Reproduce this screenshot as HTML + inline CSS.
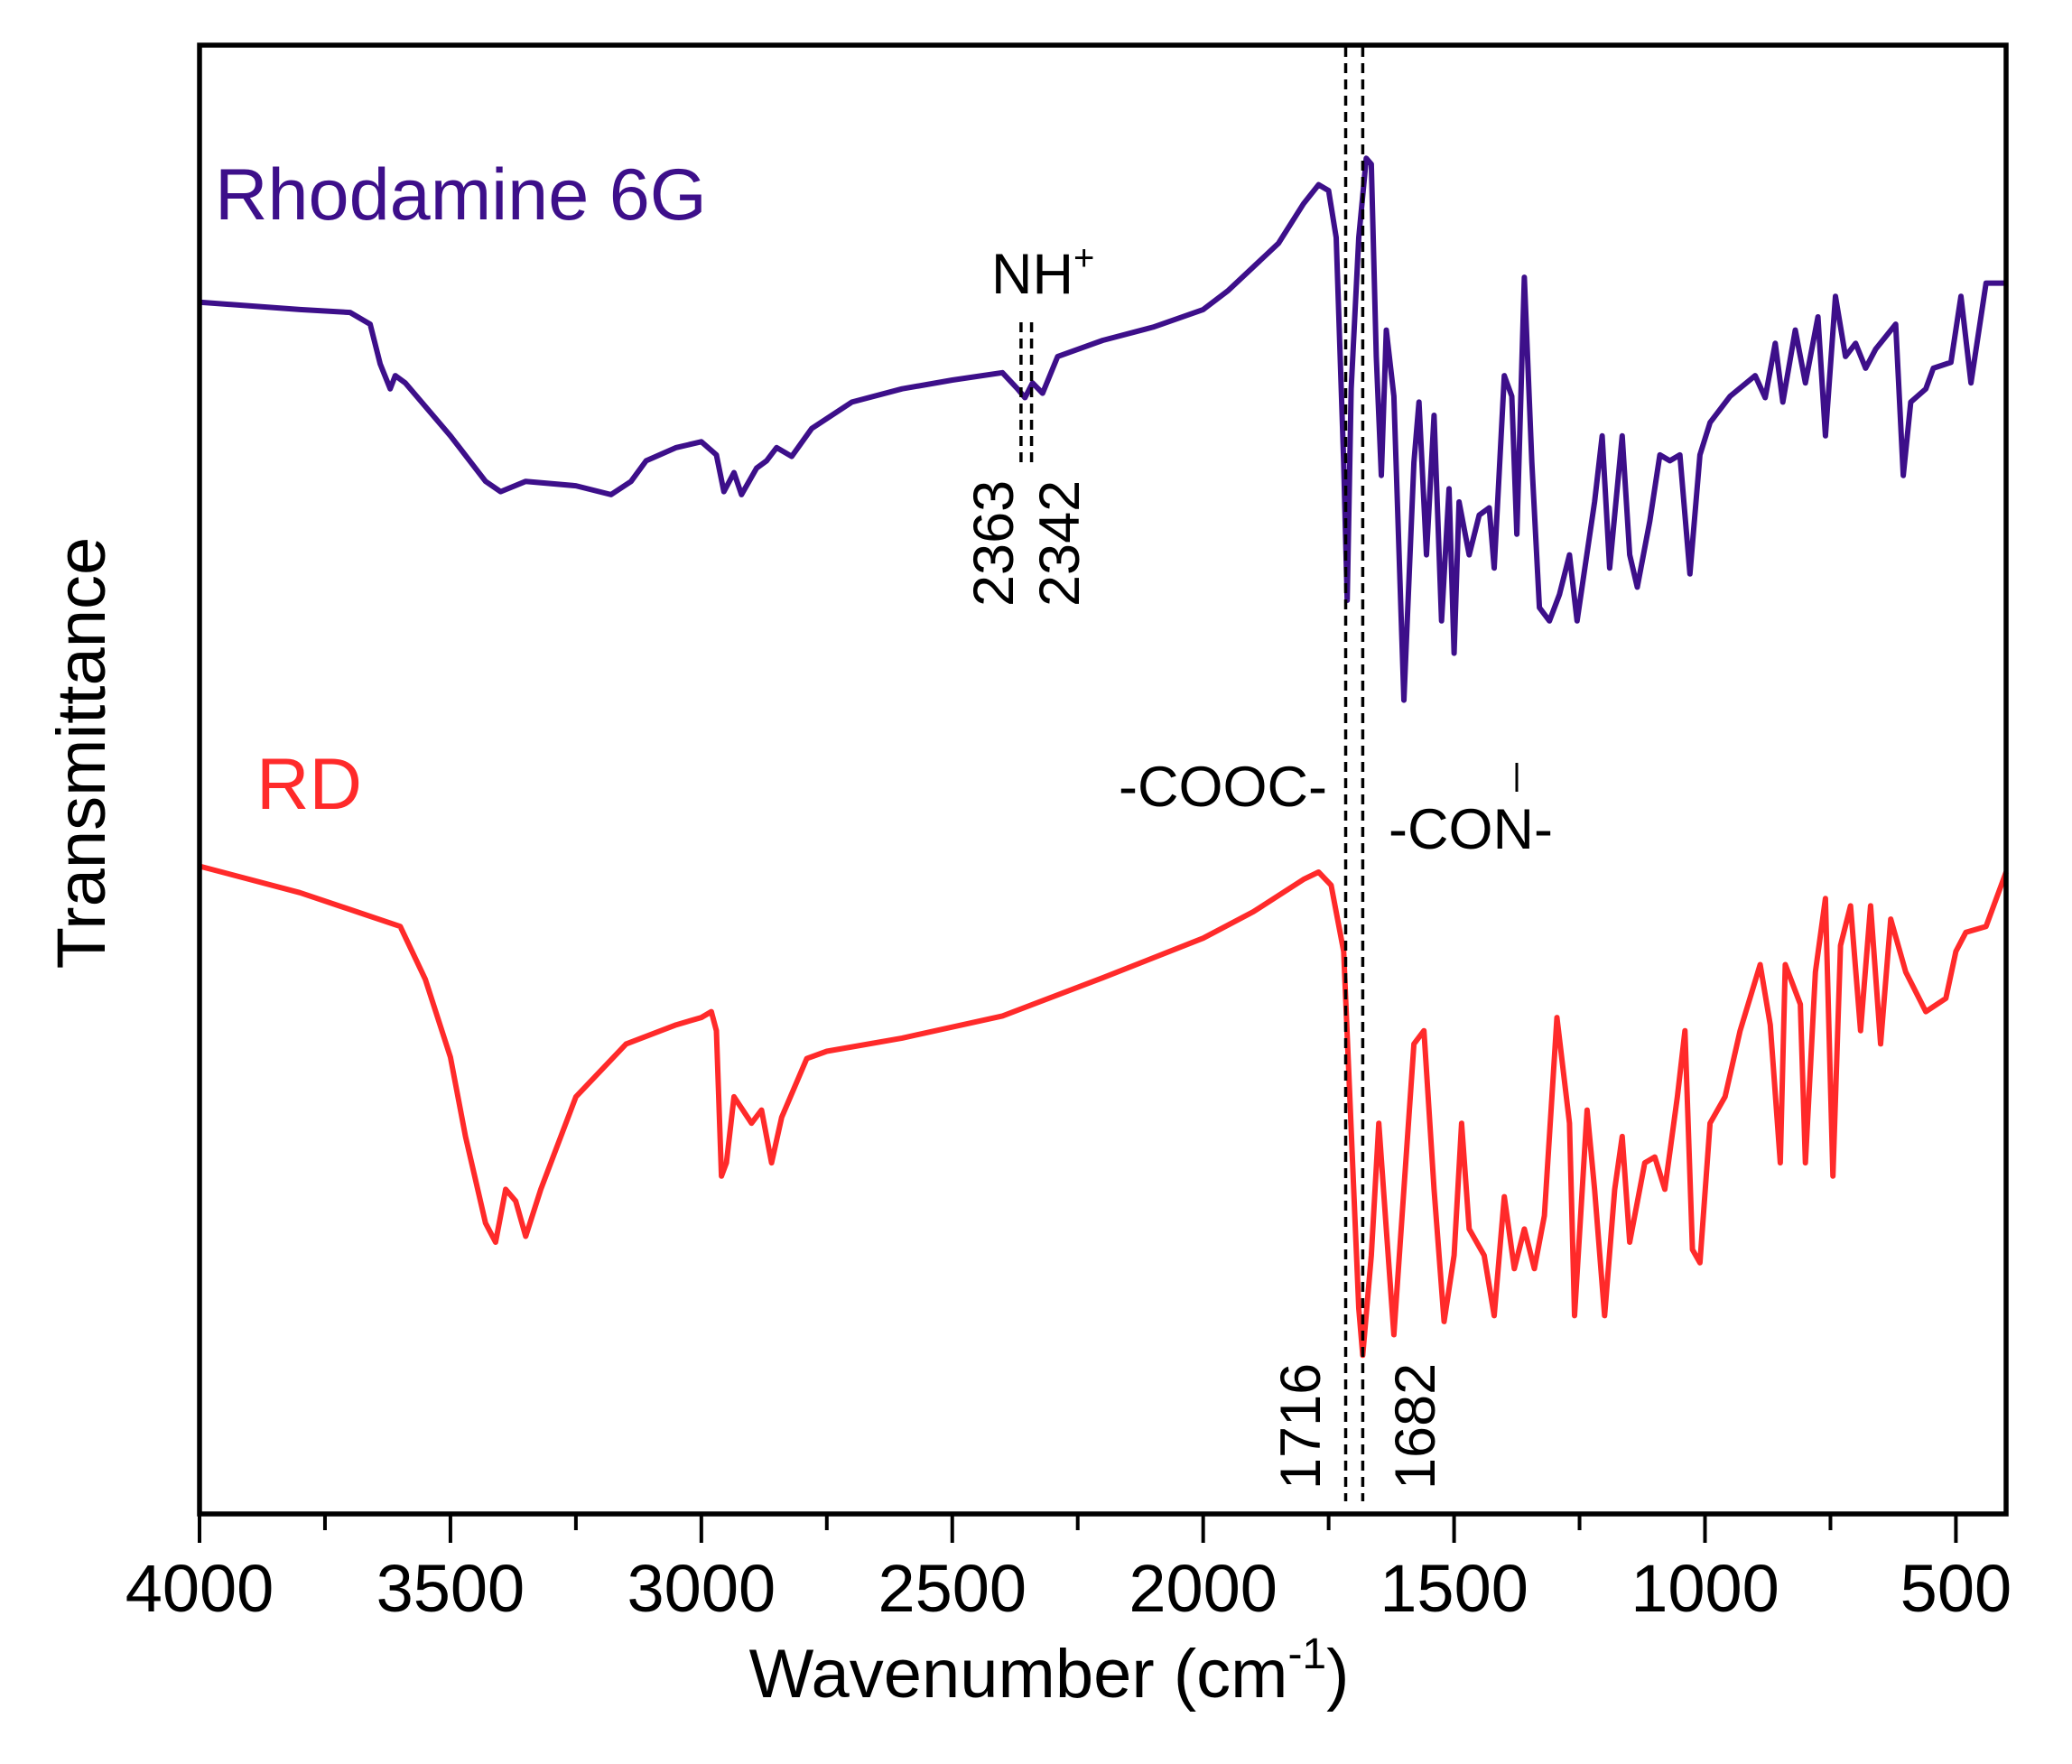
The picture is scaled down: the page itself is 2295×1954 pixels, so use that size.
<!DOCTYPE html>
<html><head><meta charset="utf-8"><style>
html,body{margin:0;padding:0;background:#fff}
svg{display:block;font-family:"Liberation Sans",Arial,sans-serif}
</style></head><body>
<svg id="chart" width="2295" height="1954" viewBox="0 0 2295 1954">
<g id="plot"></g>
</svg>
<script>
const wnR6G=[4000,3800,3700,3660,3640,3620,3610,3590,3500,3430,3400,3350,3250,3180,3140,3110,3050,3000,2970,2955,2935,2920,2890,2870,2850,2820,2780,2700,2600,2500,2400,2370,2355,2340,2320,2290,2200,2100,2000,1950,1850,1800,1770,1750,1735,1720,1713,1705,1690,1675,1665,1655,1645,1635,1620,1600,1580,1570,1555,1540,1525,1510,1500,1490,1470,1450,1430,1420,1400,1385,1375,1360,1345,1330,1310,1290,1270,1255,1220,1205,1190,1165,1150,1135,1110,1090,1070,1050,1030,1010,990,950,900,880,860,845,820,800,775,760,740,720,700,680,660,620,605,590,560,545,510,490,470,440,400];
const tR6G=[82.5,82,81.8,81,78.3,76.6,77.5,77,73.4,70.3,69.6,70.3,70,69.4,70.3,71.7,72.6,73,72.1,69.6,70.9,69.4,71.2,71.7,72.6,72,73.9,75.7,76.6,77.2,77.7,76.6,76,77,76.3,78.8,79.9,80.8,82,83.3,86.5,89.2,90.5,90.1,86.9,71.6,62.2,76.6,86.9,92.3,91.9,78.8,70.7,80.6,76.1,55.4,71.6,75.7,65.3,74.8,60.8,69.8,58.6,68.9,65.3,68,68.5,64.4,77.5,76.1,66.7,84.2,71.6,61.7,60.8,62.6,65.3,60.8,68.9,73.4,64.4,73.4,65.3,63.1,67.6,72.1,71.7,72.1,64,72.1,74.3,76.1,77.5,76,79.7,75.7,80.6,77,81.5,73.4,82.9,78.8,79.7,78,79.3,81,70.7,75.7,76.6,78,78.4,82.9,77,83.8,83.8];
const wnRD=[4000,3800,3600,3550,3500,3470,3430,3410,3390,3370,3350,3320,3250,3150,3050,3000,2980,2970,2960,2950,2935,2900,2880,2860,2840,2790,2750,2600,2400,2200,2000,1900,1800,1770,1745,1720,1700,1690,1682,1665,1650,1635,1620,1600,1580,1560,1540,1520,1500,1485,1470,1440,1420,1400,1380,1360,1340,1320,1295,1270,1260,1235,1220,1200,1180,1165,1150,1120,1100,1080,1055,1040,1025,1010,990,960,930,890,870,850,840,810,800,780,760,745,730,710,690,670,650,630,600,560,520,500,480,440,400];
const tRD=[44.1,42.3,40,36.4,31.1,25.7,19.8,18.5,22.1,21.3,18.9,22.1,28.4,32,33.3,33.8,34.2,32.9,23,23.9,28.4,26.6,27.5,23.9,27,31,31.5,32.4,33.9,36.5,39.2,41,43.2,43.7,42.8,38.3,22.1,14,10.8,17.6,26.6,19.4,12.2,22.1,32,32.9,22.1,13.1,17.6,26.6,19.4,17.6,13.5,21.6,16.7,19.4,16.7,20.3,33.8,26.6,13.5,27.5,22.1,13.5,22.1,25.7,18.5,23.9,24.3,22.1,28.4,32.9,18,17.1,26.6,28.4,32.9,37.4,33.3,23.9,37.4,34.7,23.9,36.9,41.9,23,38.7,41.4,32.9,41.4,32,40.5,36.9,34.2,35.1,38.3,39.6,40,43.7];
const xTicks=[4000,3500,3000,2500,2000,1500,1000,500];
const xTickLabels=["4000","3500","3000","2500","2000","1500","1000","500"];
const markers=[2363,2342,1716,1682];

const L=221,R=2222,T=50,B=1677,W0=4000,W1=400;
const x=w=>L+(W0-w)/(W0-W1)*(R-L);
const y=v=>B-v/100*(B-T);
const NS="http://www.w3.org/2000/svg";
const g=document.getElementById('plot');
function mk(tag,attrs,text){const e=document.createElementNS(NS,tag);for(const k in attrs)e.setAttribute(k,attrs[k]);if(text!==undefined)e.textContent=text;g.appendChild(e);return e;}

function series(wn,t,color,name){
  const d=wn.map((w,i)=>(i?'L':'M')+x(w).toFixed(1)+','+y(t[i]).toFixed(1)).join('');
  const p=mk('path',{d:d,fill:'none',stroke:color,'stroke-width':6,'stroke-linejoin':'round'});
  
  
}
series(wnR6G,tR6G,'#3d0f8a','rhodamine-6g-line');
series(wnRD,tRD,'#ff2a2a','rd-line');

[[markers[0],357,515],[markers[1],357,515],[markers[2],52,1663],[markers[3],52,1663]].forEach((m,i)=>{
  const l=mk('line',{x1:x(m[0]),x2:x(m[0]),y1:m[1],y2:m[2],stroke:'#000','stroke-width':3.5,'stroke-dasharray':'11,7'});
  
  
});

const fr=mk('rect',{x:L,y:T,width:R-L,height:B-T,fill:'none',stroke:'#000','stroke-width':5.5});



xTicks.forEach((w,i)=>{
  const t=mk('line',{x1:x(w),x2:x(w),y1:B,y2:B+32,stroke:'#000','stroke-width':4});
  
  
  const lab=mk('text',{x:x(w),y:1785,'font-size':74,'text-anchor':'middle',fill:'#000'},xTickLabels[i]);
  
  
  const mw=w-250;
  if(mw>W1){
    const mt=mk('line',{x1:x(mw),x2:x(mw),y1:B,y2:B+18,stroke:'#000','stroke-width':4});
    
    
  }
});
</script>
<svg width="2295" height="1954" viewBox="0 0 2295 1954" style="position:absolute;left:0;top:0;font-family:'Liberation Sans',Arial,sans-serif">
<text x="238" y="243" font-size="81" fill="#3d0f8a">Rhodamine 6G</text>
<text x="284" y="896" font-size="81" fill="#ff2a2a">RD</text>
<text x="1098" y="325" font-size="63" fill="#000">NH<tspan font-size="40" dy="-26">+</tspan></text>
<text transform="translate(1122,672) rotate(-90)" font-size="63" fill="#000">2363</text>
<text transform="translate(1195,672) rotate(-90)" font-size="63" fill="#000">2342</text>
<text transform="translate(1462,1650) rotate(-90)" font-size="63" fill="#000">1716</text>
<text transform="translate(1589,1650) rotate(-90)" font-size="63" fill="#000">1682</text>
<text x="1239" y="893" font-size="63" fill="#000">-COOC-</text>
<text x="1538" y="940" font-size="63" fill="#000">-CON-</text>
<line x1="1680" y1="845" x2="1680" y2="877" stroke="#000" stroke-width="3"/>
<text transform="translate(116,834) rotate(-90)" font-size="76" text-anchor="middle" fill="#000">Transmittance</text>
<text x="1162" y="1880" font-size="76" text-anchor="middle" fill="#000">Wavenumber (cm<tspan font-size="48" dy="-32">-1</tspan><tspan dy="32">)</tspan></text>
</svg>
</body></html>
